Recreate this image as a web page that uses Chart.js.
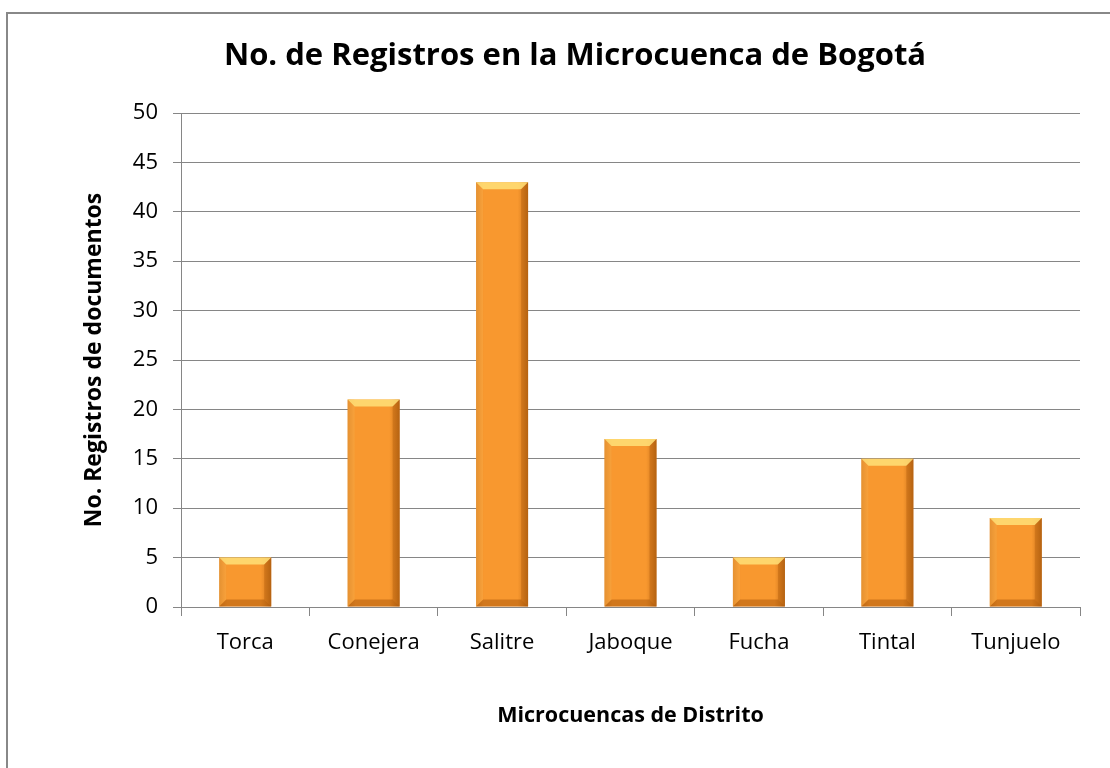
<!DOCTYPE html>
<html lang="es">
<head>
    <meta charset="UTF-8">
    <title>No. de Registros en la Microcuenca de Bogotá</title>
    <script src="https://cdn.jsdelivr.net/npm/chart.js"></script>
    <style>
        html, body { margin: 0; padding: 0; background: #fff; }
        .frame {
            position: absolute;
            left: 6px;
            top: 12px;
            width: 1200px;
            height: 900px;
            border: 2px solid #888;
        }
        .wrap {
            position: absolute;
            left: 0;
            top: 0;
            width: 1110px;
            height: 768px;
        }
    </style>
</head>
<body>
    <div class="frame"></div>
    <div class="wrap">
        <canvas id="registros"></canvas>
    </div>

    <script>
        const categorias = ['Torca', 'Conejera', 'Salitre', 'Jaboque', 'Fucha', 'Tintal', 'Tunjuelo'];
        const registros = [5, 21, 43, 17, 5, 15, 9];
        const yMin = 0;
        const yMax = 50;
        const yStep = 5;

        const gridGray = '#868686';

        // bevel / shading over each bar, drawn from the bar elements' own geometry
        const bevelBars = {
            id: 'bevelBars',
            afterDatasetsDraw(chart) {
                const ctx = chart.ctx;
                chart.getDatasetMeta(0).data.forEach(bar => {
                    const w = bar.width;
                    const l = bar.x - w / 2, r = bar.x + w / 2;
                    const t = bar.y, b = bar.base;
                    const bv = Math.min(7, (b - t) / 3);
                    ctx.save();

                    // side shading
                    const g = ctx.createLinearGradient(l, 0, r, 0);
                    g.addColorStop(0, 'rgba(150,70,0,0.3)');
                    g.addColorStop(0.15, 'rgba(150,70,0,0)');
                    g.addColorStop(0.8, 'rgba(150,70,0,0)');
                    g.addColorStop(1, 'rgba(120,55,0,0.45)');
                    ctx.fillStyle = g;
                    ctx.fillRect(l, t, w, b - t);

                    // top highlight
                    ctx.beginPath();
                    ctx.moveTo(l, t);
                    ctx.lineTo(r, t);
                    ctx.lineTo(r - bv, t + bv);
                    ctx.lineTo(l + bv, t + bv);
                    ctx.closePath();
                    ctx.fillStyle = 'rgba(255,225,120,0.85)';
                    ctx.fill();

                    // bottom shade
                    ctx.beginPath();
                    ctx.moveTo(l, b);
                    ctx.lineTo(r, b);
                    ctx.lineTo(r - bv, b - bv);
                    ctx.lineTo(l + bv, b - bv);
                    ctx.closePath();
                    ctx.fillStyle = 'rgba(150,70,0,0.4)';
                    ctx.fill();

                    // right edge
                    ctx.beginPath();
                    ctx.moveTo(r, t);
                    ctx.lineTo(r, b);
                    ctx.lineTo(r - bv, b - bv);
                    ctx.lineTo(r - bv, t + bv);
                    ctx.closePath();
                    ctx.fillStyle = 'rgba(160,75,0,0.3)';
                    ctx.fill();

                    // left edge
                    ctx.beginPath();
                    ctx.moveTo(l, t);
                    ctx.lineTo(l, b);
                    ctx.lineTo(l + bv, b - bv);
                    ctx.lineTo(l + bv, t + bv);
                    ctx.closePath();
                    ctx.fillStyle = 'rgba(255,190,90,0.3)';
                    ctx.fill();

                    ctx.restore();
                });
            }
        };

        const ctx = document.getElementById('registros').getContext('2d');
        const chart = new Chart(ctx, {
            type: 'bar',
            data: {
                labels: categorias,
                datasets: [{
                    label: 'No. Registros de documentos',
                    data: registros,
                    backgroundColor: '#F8982F',
                    borderWidth: 0,
                    barPercentage: 0.405,
                    categoryPercentage: 1
                }]
            },
            options: {
                responsive: true,
                maintainAspectRatio: false,
                animation: false,
                layout: {
                    padding: { left: 70, right: 30, top: 0, bottom: 0 }
                },
                plugins: {
                    legend: { display: false },
                    tooltip: { enabled: false },
                    title: {
                        display: true,
                        text: 'No. de Registros en la Microcuenca de Bogotá',
                        color: '#000',
                        font: { family: 'Open Sans', size: 31, weight: 'bold', lineHeight: 1.2 },
                        padding: { top: 38, bottom: 37.8 }
                    }
                },
                scales: {
                    x: {
                        afterFit: s => { s.height = 161; },
                        grid: {
                            drawOnChartArea: false,
                            drawTicks: true,
                            tickLength: 9,
                            color: gridGray
                        },
                        border: { display: true, color: gridGray, width: 1 },
                        ticks: {
                            color: '#000',
                            padding: 14,
                            font: { family: 'Open Sans', size: 22 }
                        },
                        title: {
                            display: true,
                            text: 'Microcuencas de Distrito',
                            color: '#000',
                            font: { family: 'Open Sans', size: 21.5, weight: 'bold', lineHeight: 1.2 },
                            padding: { top: 0, bottom: 39 }
                        }
                    },
                    y: {
                        min: yMin,
                        max: yMax,
                        afterFit: s => { s.width = 111; },
                        grid: {
                            color: gridGray,
                            drawTicks: true,
                            tickLength: 8
                        },
                        border: { display: true, color: gridGray, width: 1 },
                        ticks: {
                            stepSize: yStep,
                            color: '#000',
                            padding: 15,
                            font: { family: 'Open Sans', size: 22 }
                        },
                        title: {
                            display: true,
                            text: 'No. Registros de documentos',
                            color: '#000',
                            font: { family: 'Open Sans', size: 23, weight: 'bold', lineHeight: 1.2 },
                            padding: { top: 11, bottom: 0 }
                        }
                    }
                }
            },
            plugins: [bevelBars]
        });
    </script>
</body>
</html>
